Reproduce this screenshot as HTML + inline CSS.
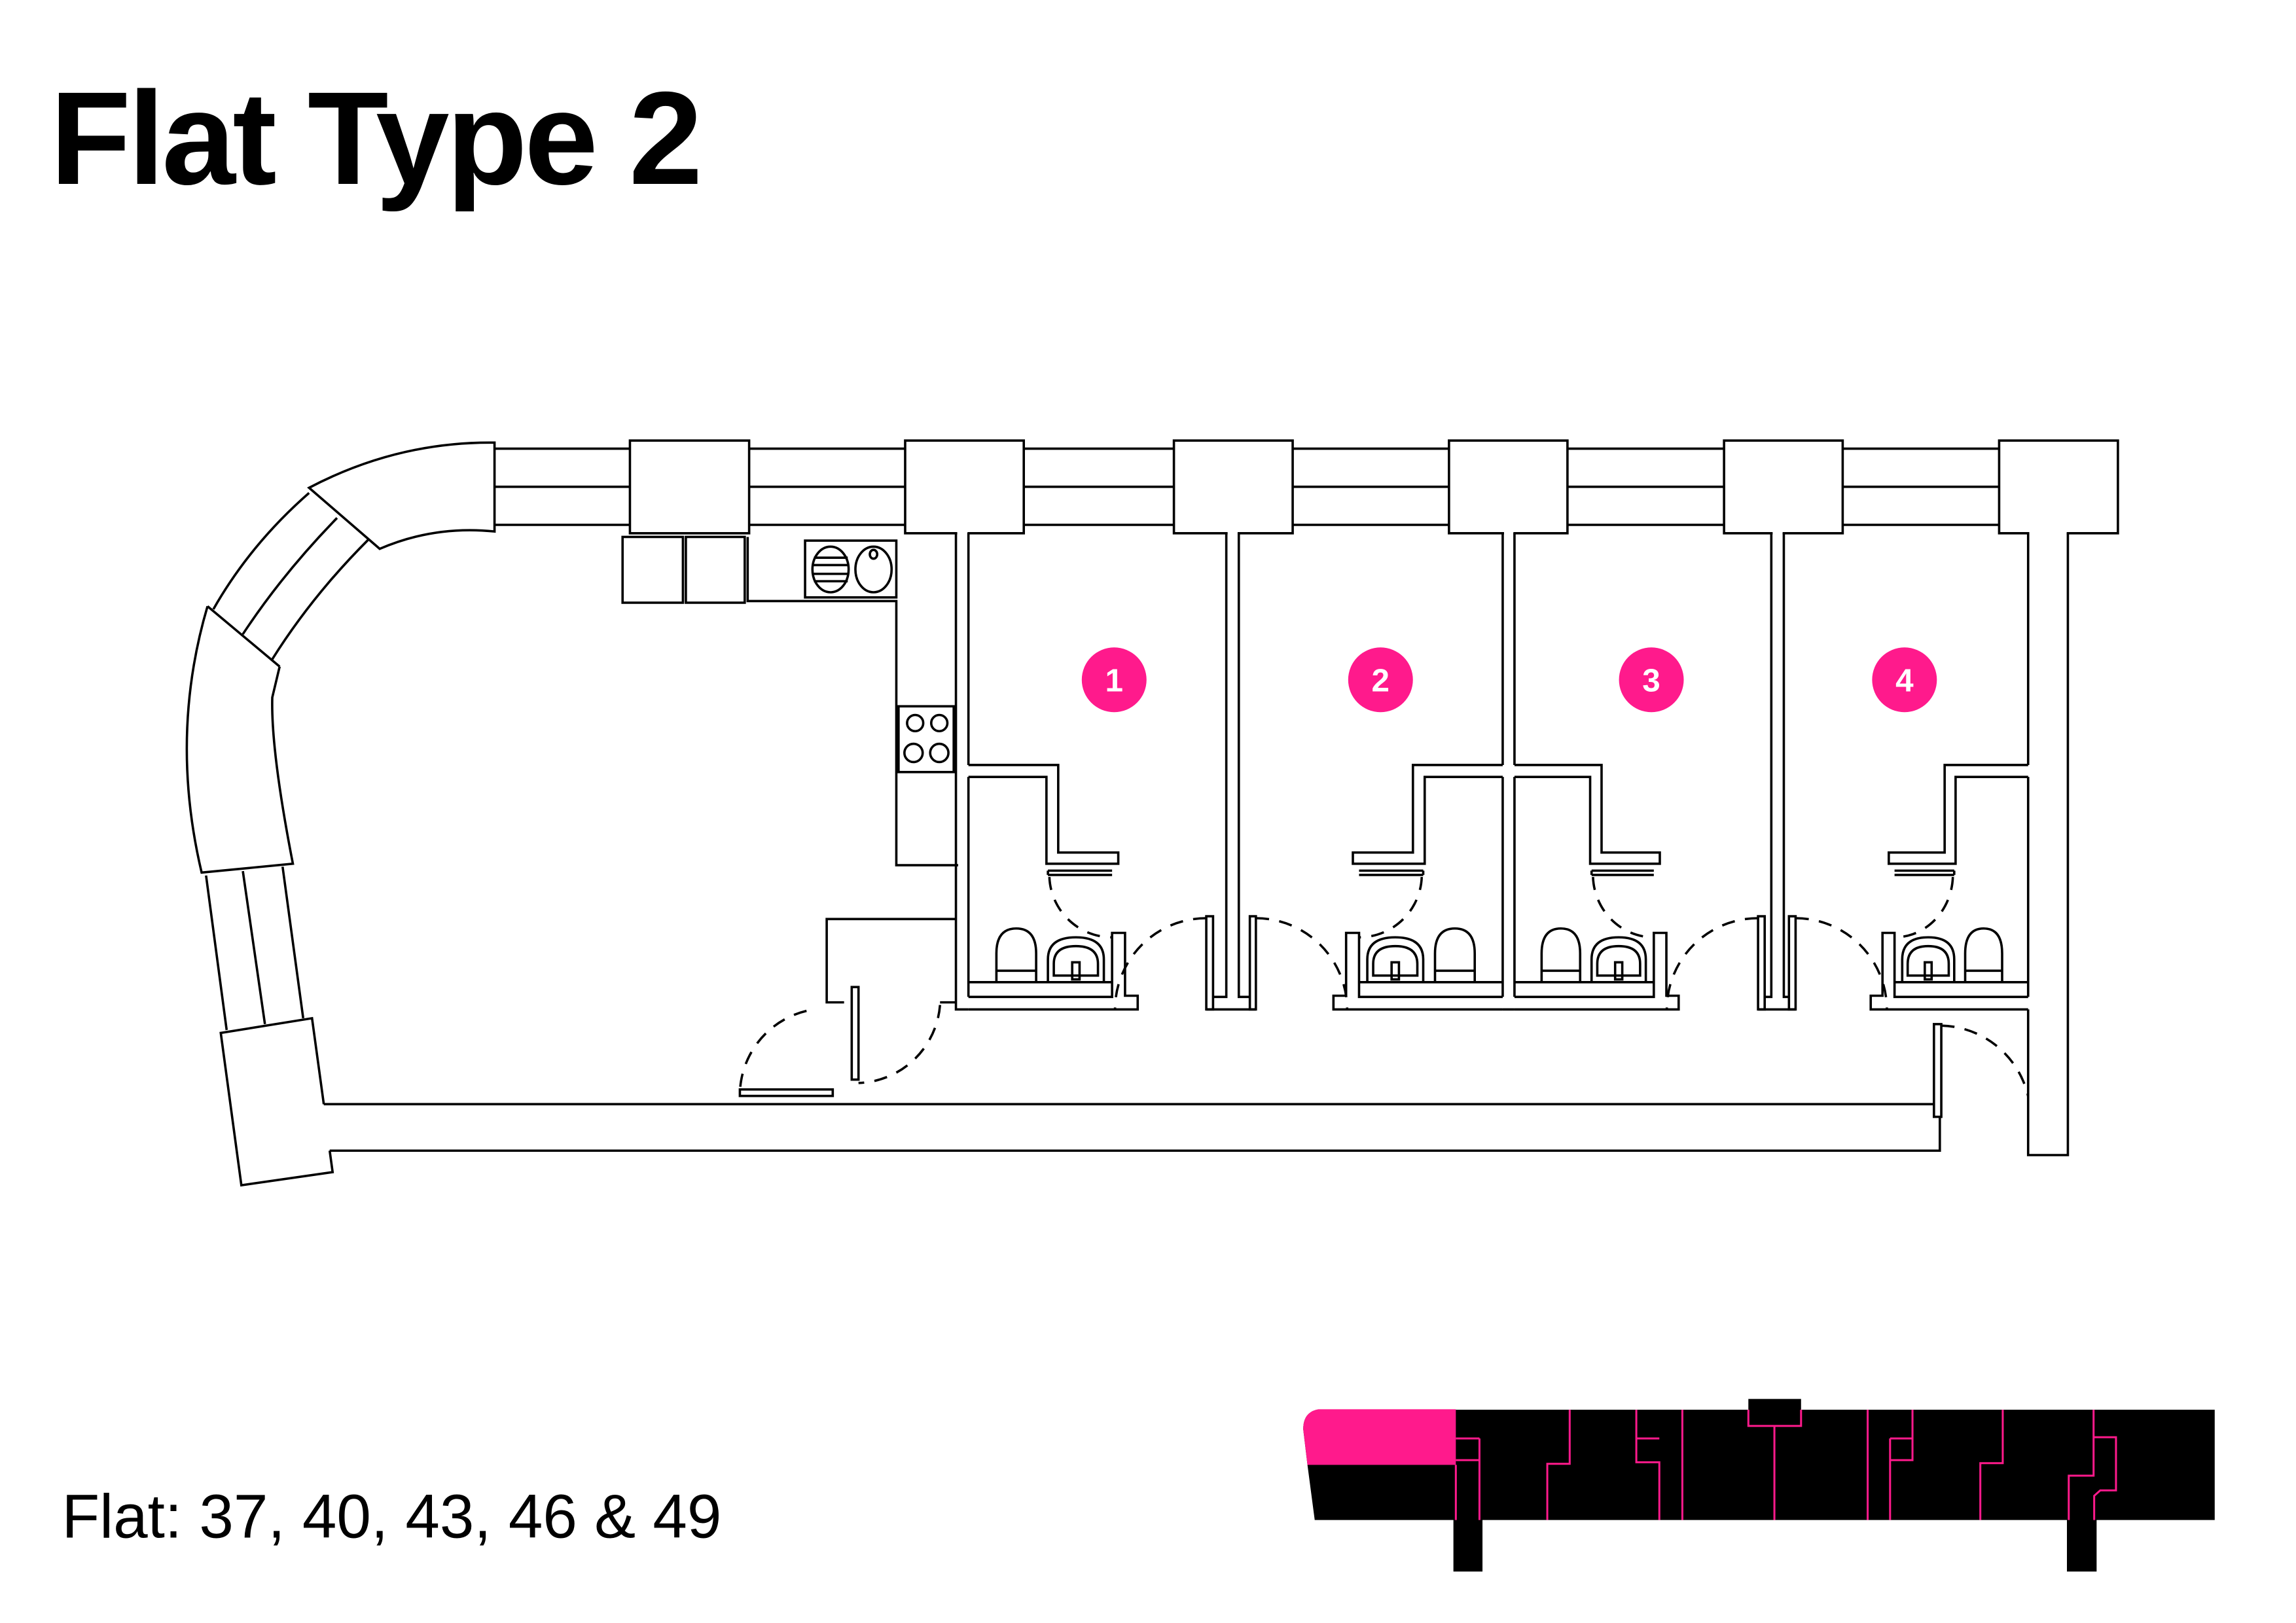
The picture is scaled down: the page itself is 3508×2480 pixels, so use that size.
<!DOCTYPE html>
<html><head><meta charset="utf-8"><style>html,body{margin:0;padding:0;background:#fff}svg{display:block}</style></head>
<body>
<svg width="3508" height="2480" viewBox="0 0 1560 1103" preserveAspectRatio="none" xmlns="http://www.w3.org/2000/svg">
<defs>
<g id="bath" fill="none" stroke="#000" stroke-width="3.6">
  <path vector-effect="non-scaling-stroke" d="M0,362 V519.9 M0,528 V677.5"/>
  <path vector-effect="non-scaling-stroke" d="M0,519.9 H61 V579.4 H101.8 V587 H53 V528 H0"/>
  <path vector-effect="non-scaling-stroke" d="M54,591.7 H97.6 M54,594.6 H97.6 M54,591.7 V594.6"/>
  <path vector-effect="non-scaling-stroke" stroke-dasharray="20 16" d="M55,596 A42.6,42.6 0 0 0 97.6,637"/>
  <path vector-effect="non-scaling-stroke" d="M0,667.5 H97.6 M0,677.5 H97.6 V634 H106.4 V676.7 H115 V686 H0"/>
  <path vector-effect="non-scaling-stroke" d="M19,667.5 V648 Q19,631 32.5,631 Q46,631 46,648 V667.5 M19,659.7 H46"/>
  <path vector-effect="non-scaling-stroke" d="M54,667.5 V652 Q54,637 73,637 Q92,637 92,652 V667.5"/>
  <path vector-effect="non-scaling-stroke" d="M58,663 V655 Q58,643 73,643 Q88,643 88,655 V663 Z"/>
  <rect vector-effect="non-scaling-stroke" x="70.5" y="654" width="5" height="11.6"/>
</g>
</defs>
<rect width="1560" height="1103" fill="#fff"/>
<text x="34" y="125" font-family="Liberation Sans, sans-serif" font-weight="bold" font-size="90" letter-spacing="-2" fill="#000">Flat Type 2</text>
<text x="42" y="1045" font-family="Liberation Sans, sans-serif" font-size="42" letter-spacing="0" fill="#000">Flat: 37, 40, 43, 46 &amp; 49</text>

<g fill="none" stroke="#000" stroke-width="1.6">
  <path d="M336,304.9 H1358 M336,330.8 H1358 M336,356.7 H1358"/>
  <g fill="#fff">
    <rect x="428" y="299.4" width="81" height="63"/>
    <rect x="615" y="299.4" width="80.6" height="63"/>
    <rect x="797.6" y="299.4" width="80.7" height="63"/>
    <rect x="984.5" y="299.4" width="80.5" height="63"/>
    <rect x="1171.4" y="299.4" width="80.6" height="63"/>
    <rect x="1358.3" y="299.4" width="80.7" height="63"/>
  </g>
  <g fill="#fff" stroke="none">
    <rect x="650.4" y="361" width="7" height="3"/>
    <rect x="834.1" y="361" width="6.8" height="3"/>
    <rect x="1021.9" y="361" width="6.4" height="3"/>
    <rect x="1204.4" y="361" width="6.8" height="3"/>
    <rect x="1378.8" y="361" width="25.4" height="3"/>
  </g>
  <path fill="#fff" d="M336,300.8 Q270,300 210,331.5 L258,373 Q295,357 336,361.2 Z"/>
  <path d="M210,335 Q170,370 145,414 M229,352 Q192,390 165,431 M250,367 Q212,405 185,448"/>
  <path d="M141,412 L190,453 M141,412 Q115,500 137,593 L199,587 Q184,510 185,474 L190,453"/>
  <path d="M140,595 L154,700 M165,592 L180,696 M192,589 L206,692"/>
  <path d="M220,750.4 L212,692 L150,702 L164,805.5 L226,796.6 L224,782"/>
  <path d="M220,750.4 H1314 M224,782 H1318 V759"/>
  <rect x="423" y="364.9" width="41" height="44.7"/>
  <rect x="466" y="364.9" width="40" height="44.7"/>
  <path d="M508,364.9 V408.5 H609 V588 H651"/>
  <rect x="547" y="367.4" width="62" height="38.6"/>
  <ellipse cx="564.3" cy="387" rx="12.3" ry="15.5"/>
  <path d="M553,379 H576 M552.3,384 H576.3 M552.3,390 H576.3 M553,395 H576"/>
  <ellipse cx="593.5" cy="387" rx="12.3" ry="15.5"/>
  <ellipse cx="593.5" cy="376.7" rx="2.5" ry="3"/>
  <rect x="610.5" y="480" width="37.5" height="44.7"/>
  <circle cx="621.8" cy="491.4" r="5.5"/><circle cx="638.2" cy="491.4" r="5.5"/>
  <circle cx="620.7" cy="511.7" r="6.2"/><circle cx="638.2" cy="511.7" r="6.2"/>
  <path d="M649.5,624.6 H561.7 V681.2 H573.5 M638.7,681.2 H649.5"/>
  <rect x="578.7" y="670.8" width="4.6" height="62.9"/>
  <rect x="502.7" y="740.4" width="63.1" height="4.4"/>
  <path stroke-dasharray="9 7" d="M638.7,683 A57.5,57.5 0 0 1 583.3,736"/>
  <path stroke-dasharray="9 7" d="M548,687 A59,59 0 0 0 502.7,744"/>
  <path d="M649.5,362 V686 H658"/>
  <path d="M833.2,362 V677.5 H824.2 M841.7,362 V677.5 H849.2"/>
  <rect x="819.6" y="622.7" width="4.6" height="63.3"/>
  <rect x="849.2" y="622.7" width="4.1" height="63.3"/>
  <path d="M819.6,686 H853.3"/>
  <path stroke-dasharray="9 7" d="M819.6,624 A62,62 0 0 0 757.6,686"/>
  <path stroke-dasharray="9 7" d="M853.3,624 A62,62 0 0 1 915.3,686"/>
  <path d="M1203.5,362 V677.5 H1199 M1212,362 V677.5 H1215.5"/>
  <rect x="1194.5" y="622.7" width="4.5" height="63.3"/>
  <rect x="1215.5" y="622.7" width="4.5" height="63.3"/>
  <path d="M1194.5,686 H1220"/>
  <path stroke-dasharray="9 7" d="M1194.5,624 A62,62 0 0 0 1132.5,686"/>
  <path stroke-dasharray="9 7" d="M1220,624 A62,62 0 0 1 1282,686"/>
  <path d="M1021,686 H1029"/>
  <path d="M1378,686 V785 H1405 V362.3"/>
  <rect x="1314" y="696" width="5" height="63"/>
  <path stroke-dasharray="9 7" d="M1319,697 A62,62 0 0 1 1378,745"/>
</g>

<use href="#bath" transform="translate(658,0)"/>
<use href="#bath" transform="translate(1021,0) scale(-1,1)"/>
<use href="#bath" transform="translate(1029,0) scale(0.97,1)"/>
<use href="#bath" transform="translate(1378,0) scale(-0.93,1)"/>

<g font-family="Liberation Sans, sans-serif" font-weight="bold" font-size="22" fill="#fff" text-anchor="middle">
  <circle cx="757" cy="462" r="22" fill="#ff1a8c"/><text x="757" y="470">1</text>
  <circle cx="938" cy="462" r="22" fill="#ff1a8c"/><text x="938" y="470">2</text>
  <circle cx="1122" cy="462" r="22" fill="#ff1a8c"/><text x="1122" y="470">3</text>
  <circle cx="1294" cy="462" r="22" fill="#ff1a8c"/><text x="1294" y="470">4</text>
</g>

<g transform="translate(869,936) scale(0.4115,0.147)">
  <path fill="#000" d="M65,150 H775 V100 H862 V150 H1545 V660 H1350 V898 H1301 V660 H336 V898 H288 V660 H59 L47,405 L40,240 Q40,160 65,150 Z"/>
  <path fill="#ff1a8c" d="M65,148 H292 V405 H47 L40,240 Q40,160 65,148 Z"/>
  <g fill="none" stroke="#ff1a8c" stroke-width="3">
    <path vector-effect="non-scaling-stroke" d="M292,405 V660 M292,283 H331 M292,383 H331 M331,283 V660"/>
    <path vector-effect="non-scaling-stroke" d="M480,150 V400 H443 V660"/>
    <path vector-effect="non-scaling-stroke" d="M590,150 V393 H628 V660 M590,283 H628"/>
    <path vector-effect="non-scaling-stroke" d="M666,150 V660"/>
    <path vector-effect="non-scaling-stroke" d="M775,150 V225 H862 V150 M818,225 V660"/>
    <path vector-effect="non-scaling-stroke" d="M972,150 V660"/>
    <path vector-effect="non-scaling-stroke" d="M1046,150 V383 H1009 V660 M1009,283 H1046 M1009,283 V383"/>
    <path vector-effect="non-scaling-stroke" d="M1195,150 V397 H1158 V660"/>
    <path vector-effect="non-scaling-stroke" d="M1345,150 V455 H1304 V660 M1345,277 H1382 V523 H1356 L1346,548 V660"/>
  </g>
</g>
</svg>
</body></html>
